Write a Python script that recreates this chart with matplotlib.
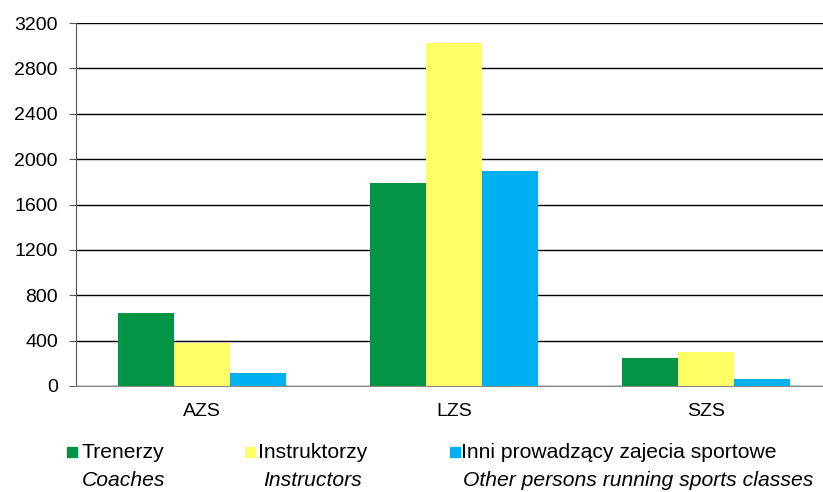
import numpy as np
import matplotlib.pyplot as plt
from matplotlib.patches import Rectangle

plt.rcParams["font.family"] = ["Liberation Sans", "DejaVu Sans"]
plt.rcParams["font.size"] = 14

categories = ["AZS", "LZS", "SZS"]
trenerzy = [643, 1789, 247]
instruktorzy = [379, 3022, 300]
inni = [115, 1894, 62]

series_pl = ["Trenerzy", "Instruktorzy", "Inni prowadzący zajecia sportowe"]
series_en = ["Coaches", "Instructors", "Other persons running sports classes"]
colors = ["#009444", "#FFFF66", "#00B0F0"]

fig = plt.figure(figsize=(8.23, 4.92), dpi=100)
ax = fig.add_axes([76 / 823, 1 - 386 / 492, 756 / 823, 363 / 492])

x = np.arange(len(categories))
w = 0.222
for i, vals in enumerate([trenerzy, instruktorzy, inni]):
    ax.bar(x + (i - 1) * w, vals, width=w, color=colors[i], zorder=3)

ax.set_xlim(-0.5, 2.5)
ax.set_ylim(0, 3200)
ax.set_yticks(np.arange(0, 3201, 400))
ax.set_xticks(x)
ax.set_xticklabels(categories)
ax.yaxis.grid(True, color="black", linewidth=1, zorder=0)
for s in ["top", "right"]:
    ax.spines[s].set_visible(False)
ax.spines["left"].set_color("#555555")
ax.spines["bottom"].set_color("#888888")
ax.tick_params(axis="y", length=5, color="#555555", pad=8)
ax.tick_params(axis="x", length=0, pad=12)

# legend, drawn by hand: polish name with square, english name in italics below
sq_x = [67, 245, 450]
txt_x = [81, 258, 461]
en_x = [82, 263, 463]
for i in range(3):
    fig.patches.append(Rectangle((sq_x[i] / 823, 1 - 457 / 492), 10 / 823, 10 / 492,
                                 transform=fig.transFigure, color=colors[i]))
    fig.text(txt_x[i] / 823, 1 - 452 / 492, series_pl[i], va="center", ha="left",
             fontsize=15.2)
    fig.text(en_x[i] / 823, 1 - 481 / 492, series_en[i], va="center", ha="left",
             style="italic", fontsize=15.2)

fig.savefig("out.png", dpi=100)
